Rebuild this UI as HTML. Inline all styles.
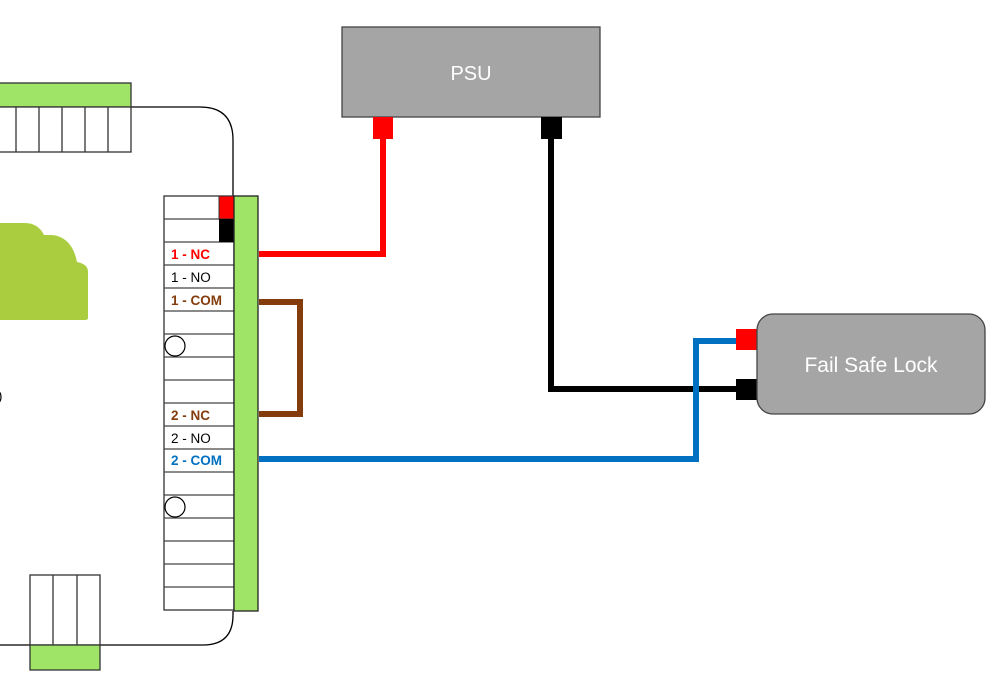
<!DOCTYPE html>
<html><head><meta charset="utf-8"><style>
html,body{margin:0;padding:0;background:#fff;}
svg{display:block;}
text{font-family:"Liberation Sans","DejaVu Sans",sans-serif;}
</style></head><body>
<svg width="998" height="699" viewBox="0 0 998 699" xmlns="http://www.w3.org/2000/svg">
<!-- board outline -->
<path d="M131 107 H200 Q233 107 233 140 V196" fill="none" stroke="#000" stroke-width="1.3"/>
<path d="M0 645 H203 Q233 645 233 615 V611" fill="none" stroke="#000" stroke-width="1.3"/>
<!-- top connector -->
<rect x="-1" y="83" width="132" height="24" fill="#9FE467" stroke="#333" stroke-width="1.3"/>
<rect x="-1" y="107" width="132" height="45" fill="#fff" stroke="#333" stroke-width="1.3"/>
<g stroke="#333" stroke-width="1.3">
<line x1="16" y1="107" x2="16" y2="152"/><line x1="39" y1="107" x2="39" y2="152"/>
<line x1="62" y1="107" x2="62" y2="152"/><line x1="85" y1="107" x2="85" y2="152"/>
<line x1="108" y1="107" x2="108" y2="152"/>
</g>
<!-- cloud -->
<path d="M0 223 H25 Q38 223 44 235 H52 Q72 237 77 262 Q88 264 88 272 V318 Q88 320 85 320 H0 Z" fill="#A9CD3F"/>
<circle cx="-8" cy="397" r="9" fill="#fff" stroke="#000" stroke-width="1.2"/>
<!-- terminal block -->
<rect x="164" y="196" width="70" height="414" fill="#fff" stroke="#333" stroke-width="1.3"/>
<g stroke="#444" stroke-width="1.3">
<line x1="164" y1="219" x2="234" y2="219"/><line x1="164" y1="242" x2="234" y2="242"/>
<line x1="164" y1="265" x2="234" y2="265"/><line x1="164" y1="288" x2="234" y2="288"/>
<line x1="164" y1="311" x2="234" y2="311"/><line x1="164" y1="334" x2="234" y2="334"/>
<line x1="164" y1="357" x2="234" y2="357"/><line x1="164" y1="380" x2="234" y2="380"/>
<line x1="164" y1="403" x2="234" y2="403"/><line x1="164" y1="426" x2="234" y2="426"/>
<line x1="164" y1="449" x2="234" y2="449"/><line x1="164" y1="472" x2="234" y2="472"/>
<line x1="164" y1="495" x2="234" y2="495"/><line x1="164" y1="518" x2="234" y2="518"/>
<line x1="164" y1="541" x2="234" y2="541"/><line x1="164" y1="564" x2="234" y2="564"/>
<line x1="164" y1="587" x2="234" y2="587"/>
</g>
<rect x="219" y="196" width="15" height="23" fill="#f00" stroke="#333" stroke-width="1"/>
<rect x="219" y="219" width="15" height="23" fill="#000"/>
<rect x="234" y="196" width="24" height="415" fill="#9FE467" stroke="#222" stroke-width="1.3"/>
<circle cx="175" cy="346" r="10" fill="#fff" stroke="#000" stroke-width="1.2"/>
<circle cx="175" cy="507" r="10" fill="#fff" stroke="#000" stroke-width="1.2"/>
<g font-size="13.5">
<text x="171" y="259" fill="#f00" font-weight="bold">1 - NC</text>
<text x="171" y="282" fill="#000">1 - NO</text>
<text x="171" y="305" fill="#843C0C" font-weight="bold">1 - COM</text>
<text x="171" y="420" fill="#843C0C" font-weight="bold">2 - NC</text>
<text x="171" y="443" fill="#000">2 - NO</text>
<text x="171" y="465" fill="#0070C0" font-weight="bold">2 - COM</text>
</g>
<!-- bottom connector -->
<rect x="30" y="575" width="70" height="70" fill="#fff" stroke="#333" stroke-width="1.3"/>
<line x1="53" y1="575" x2="53" y2="645" stroke="#333" stroke-width="1.3"/>
<line x1="77" y1="575" x2="77" y2="645" stroke="#333" stroke-width="1.3"/>
<rect x="30" y="645" width="70" height="25" fill="#9FE467" stroke="#333" stroke-width="1.3"/>
<!-- PSU -->
<rect x="342" y="27" width="258" height="90" fill="#A5A5A5" stroke="#444" stroke-width="1.3"/>
<text x="471" y="80" fill="#fff" font-size="20" text-anchor="middle">PSU</text>
<rect x="373" y="117" width="20" height="22" fill="#f00"/>
<rect x="541" y="117" width="21" height="22" fill="#000"/>
<!-- wires -->
<polyline points="259,254 383,254 383,139" fill="none" stroke="#f00" stroke-width="6"/>
<polyline points="551,139 551,389 737,389" fill="none" stroke="#000" stroke-width="6"/>
<polyline points="259,302 300,302 300,414 259,414" fill="none" stroke="#843C0C" stroke-width="6"/>
<polyline points="259,459 696,459 696,341 737,341" fill="none" stroke="#0070C0" stroke-width="6"/>
<!-- lock -->
<rect x="736" y="329" width="21" height="21" fill="#f00"/>
<rect x="736" y="379" width="21" height="21" fill="#000"/>
<rect x="757" y="314" width="228" height="100" rx="16" fill="#A5A5A5" stroke="#444" stroke-width="1.3"/>
<text x="871" y="372" fill="#fff" font-size="21" text-anchor="middle">Fail Safe Lock</text>
</svg>
</body></html>
